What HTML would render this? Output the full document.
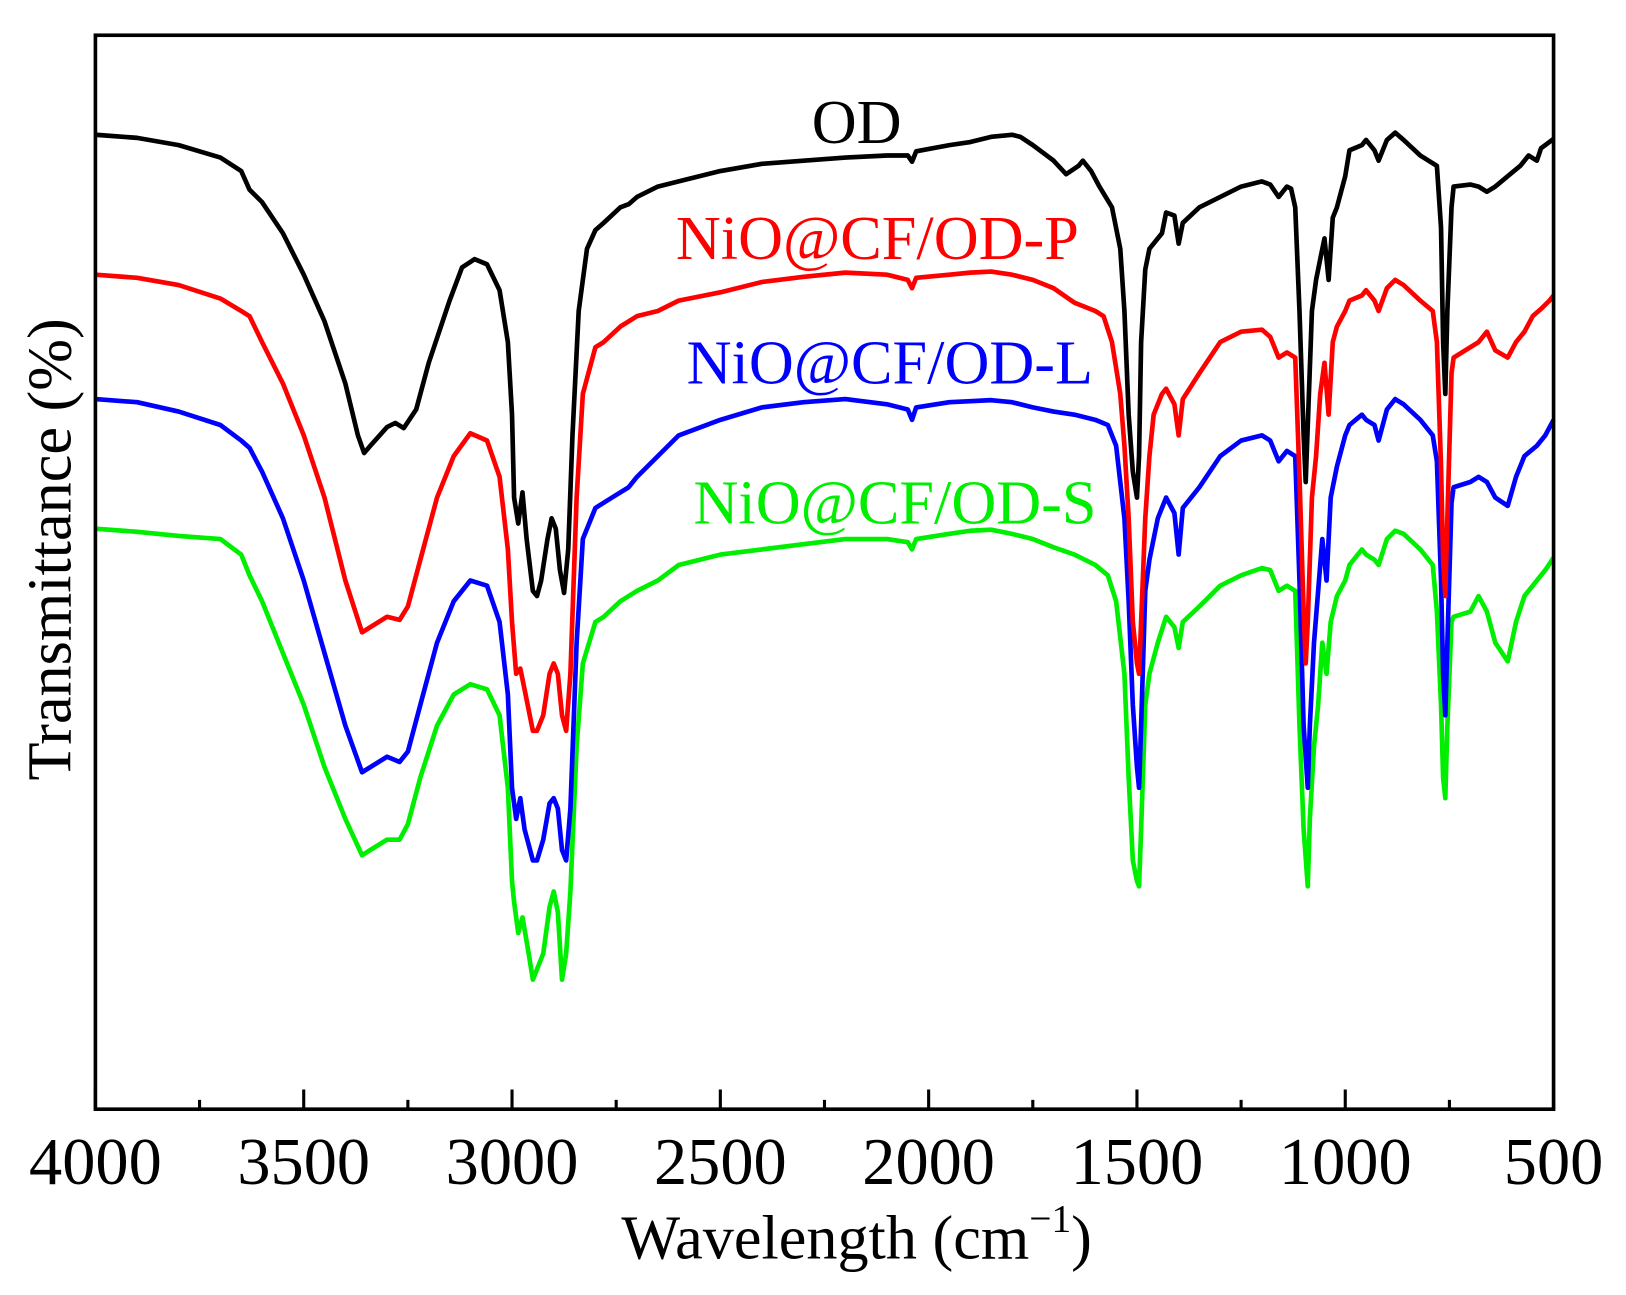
<!DOCTYPE html>
<html><head><meta charset="utf-8"><style>
html,body{margin:0;padding:0;background:#fff;}
svg{display:block;}
text{font-family:"Liberation Serif","Times New Roman",serif;}
</style></head><body>
<svg id="chart" width="1626" height="1295" viewBox="0 0 1560 1243" preserveAspectRatio="none" xmlns="http://www.w3.org/2000/svg">
<rect x="0" y="0" width="1560" height="1243" fill="#fff"/>
<g transform="scale(0.995)">
<g id="series"></g>
<rect x="92" y="34" width="1406" height="1036" fill="none" stroke="#000" stroke-width="3.5"/>
<g id="ticks"></g>
<text x="826" y="1214" font-size="60" text-anchor="middle">Wavelength (cm<tspan dy="-26" font-size="38">−1</tspan><tspan dy="26">)</tspan></text>
<text transform="translate(68,530) rotate(-90)" font-size="60" text-anchor="middle">Transmittance (%)</text>
<text x="826" y="138" font-size="60" text-anchor="middle" fill="#000">OD</text>
<text x="846" y="250" font-size="60" text-anchor="middle" fill="#ff0000">NiO@CF/OD-P</text>
<text x="858" y="370" font-size="60" text-anchor="middle" fill="#0000ff">NiO@CF/OD-L</text>
<text x="863" y="505" font-size="60" text-anchor="middle" fill="#00ee00">NiO@CF/OD-S</text>
</g>
</svg>
<script>
const xTicks = [4000,3500,3000,2500,2000,1500,1000,500];
const xMinorTicks = [3750,3250,2750,2250,1750,1250,750];
// values: downward offset (inverse transmittance units)
const odWave = [4000,3900,3800,3700,3650,3630,3600,3550,3500,3450,3400,3370,3355,3340,3300,3280,3260,3230,3200,3150,3120,3090,3060,3030,3010,3000,2995,2985,2975,2965,2950,2940,2930,2915,2905,2895,2885,2875,2865,2855,2840,2820,2800,2780,2740,2720,2700,2650,2600,2500,2400,2300,2200,2100,2050,2040,2030,1950,1900,1850,1800,1780,1750,1700,1670,1640,1630,1610,1590,1560,1540,1530,1520,1510,1500,1495,1490,1480,1470,1440,1430,1410,1400,1390,1350,1300,1250,1200,1180,1160,1140,1130,1120,1110,1100,1095,1090,1080,1070,1060,1050,1040,1030,1020,1010,1000,990,960,950,930,920,900,880,860,820,780,770,765,760,755,745,740,700,680,660,640,610,580,560,540,530,510,500];
const odVal = [130,133,140,152,165,183,195,225,265,310,370,420,437,430,412,408,413,395,350,290,258,250,255,280,330,400,480,505,475,520,570,575,560,520,500,510,550,572,530,420,300,240,222,215,200,197,190,180,175,165,158,155,152,150,150,156,146,140,137,132,130,132,140,155,168,160,155,165,180,200,240,300,400,455,480,440,330,260,240,225,205,208,235,215,200,190,180,175,178,190,180,182,200,300,420,465,410,300,270,250,230,270,210,200,185,170,145,140,135,145,155,135,128,135,150,160,220,330,380,300,200,180,178,180,185,180,170,160,150,155,143,137,134];
const pWave = [4000,3900,3800,3700,3650,3630,3600,3550,3500,3450,3400,3360,3340,3300,3270,3250,3220,3180,3140,3100,3060,3030,3010,3000,2990,2980,2970,2950,2940,2925,2910,2900,2890,2880,2870,2860,2845,2830,2800,2780,2740,2720,2700,2650,2600,2500,2400,2300,2200,2100,2050,2040,2030,1950,1900,1850,1800,1750,1700,1650,1600,1580,1560,1540,1530,1520,1510,1500,1495,1490,1480,1470,1460,1440,1430,1410,1400,1390,1350,1300,1250,1200,1180,1160,1140,1120,1110,1100,1095,1090,1080,1070,1060,1050,1040,1030,1020,1000,990,960,950,930,920,900,880,860,820,790,780,770,765,760,755,745,740,700,680,660,640,610,590,570,550,530,510,500];
const pVal = [265,268,275,288,300,305,330,370,420,480,560,610,605,595,598,585,540,480,440,418,425,460,530,600,650,645,665,705,705,690,650,640,650,690,705,650,480,380,335,330,315,310,305,300,290,282,272,267,263,265,270,278,268,265,263,262,265,270,278,292,300,305,330,380,430,500,600,640,650,600,500,440,400,380,375,390,420,385,360,330,320,318,325,345,340,345,460,590,640,600,480,440,380,350,400,330,315,300,290,285,280,290,300,278,270,275,290,300,330,450,540,575,500,360,345,335,330,320,338,345,330,320,305,298,290,285];
const lWave = [4000,3900,3800,3700,3650,3630,3600,3550,3500,3450,3400,3360,3340,3300,3270,3250,3220,3180,3140,3100,3060,3030,3010,3000,2990,2980,2970,2950,2940,2925,2910,2900,2890,2880,2870,2860,2845,2830,2800,2760,2720,2700,2650,2600,2500,2400,2300,2200,2100,2050,2040,2030,1950,1900,1850,1800,1750,1700,1650,1600,1570,1550,1530,1520,1510,1500,1495,1490,1480,1470,1450,1430,1410,1400,1390,1350,1300,1250,1200,1180,1160,1140,1120,1110,1100,1090,1085,1075,1065,1055,1045,1035,1020,1000,990,960,950,930,920,900,880,860,820,790,780,770,765,760,755,745,740,700,680,660,640,610,590,570,540,520,500];
const lVal = [385,388,397,410,425,432,455,500,560,630,700,745,740,730,735,725,680,620,580,560,565,600,670,760,790,770,800,830,830,810,775,770,780,820,830,780,620,520,490,480,470,460,440,420,405,393,388,385,390,395,405,393,388,387,386,388,393,397,400,405,410,430,500,580,680,740,760,700,570,540,500,480,495,535,490,470,440,425,420,425,445,435,440,560,700,760,700,620,570,520,560,480,450,420,410,400,405,410,425,395,385,390,405,420,445,560,650,690,620,485,470,465,460,465,480,488,460,440,430,420,405];
const sWave = [4000,3900,3800,3700,3650,3630,3600,3550,3500,3450,3400,3360,3340,3300,3270,3250,3220,3180,3140,3100,3060,3030,3010,3000,2995,2985,2975,2960,2950,2940,2925,2910,2900,2890,2880,2870,2860,2845,2830,2800,2780,2740,2720,2700,2650,2600,2500,2400,2300,2200,2100,2050,2040,2030,1950,1900,1850,1800,1750,1700,1650,1600,1570,1550,1530,1520,1510,1500,1495,1490,1480,1470,1450,1430,1410,1400,1390,1350,1300,1250,1200,1180,1160,1140,1120,1110,1100,1090,1085,1075,1065,1055,1045,1035,1020,1000,990,960,950,930,920,900,880,860,820,790,780,770,765,760,755,745,740,700,680,660,640,610,590,570,540,520,500];
const sVal = [510,513,517,520,535,555,580,630,680,740,790,825,820,810,810,795,750,700,670,660,665,690,760,850,870,900,885,920,945,935,920,875,860,880,945,920,860,720,640,600,595,580,575,570,560,545,535,530,525,520,520,523,530,520,515,512,511,515,520,528,535,545,555,580,650,750,830,850,855,800,680,650,620,595,605,625,600,585,565,555,548,550,570,565,570,700,800,855,790,720,680,620,650,600,575,560,545,530,535,540,545,520,512,515,530,545,590,680,750,770,700,600,595,590,575,590,620,638,600,575,560,550,538];

const X0=92, X1=1498, Y0=34, Y1=1070;
function xScale(w){ return X0 + (4000 - w) / 3500 * (X1 - X0); }
function yScale(v){ return v * (Y1 / 1070); }
const NS='http://www.w3.org/2000/svg';
const tg=document.getElementById('ticks');
xTicks.forEach(function(t){
  const l=document.createElementNS(NS,'line');
  l.setAttribute('x1',xScale(t));l.setAttribute('x2',xScale(t));
  l.setAttribute('y1',Y1);l.setAttribute('y2',Y1-19);
  l.setAttribute('stroke','#000');l.setAttribute('stroke-width','3');
  
  
  tg.appendChild(l);
  const tx=document.createElementNS(NS,'text');
  tx.setAttribute('x',xScale(t));tx.setAttribute('y',1142);
  tx.setAttribute('font-size','64');tx.setAttribute('text-anchor','middle');
  tx.textContent=t;
  
  
  tg.appendChild(tx);
});
xMinorTicks.forEach(function(t){
  const l=document.createElementNS(NS,'line');
  l.setAttribute('x1',xScale(t));l.setAttribute('x2',xScale(t));
  l.setAttribute('y1',Y1);l.setAttribute('y2',Y1-9);
  l.setAttribute('stroke','#000');l.setAttribute('stroke-width','3');
  
  
  tg.appendChild(l);
});
const sg=document.getElementById('series');
function drawSeries(wave, vals, color, name){
  const p=document.createElementNS(NS,'polyline');
  p.setAttribute('points', wave.map(function(w,i){return xScale(w).toFixed(1)+','+yScale(vals[i]).toFixed(1);}).join(' '));
  p.setAttribute('fill','none');p.setAttribute('stroke',color);
  p.setAttribute('stroke-width','4.5');p.setAttribute('stroke-linejoin','round');
  
  
  sg.appendChild(p);
}
drawSeries(sWave,sVal,'#00ee00','series-nio-cf-od-s');
drawSeries(lWave,lVal,'#0000ff','series-nio-cf-od-l');
drawSeries(pWave,pVal,'#ff0000','series-nio-cf-od-p');
drawSeries(odWave,odVal,'#000000','series-od');
</script>
</body></html>
